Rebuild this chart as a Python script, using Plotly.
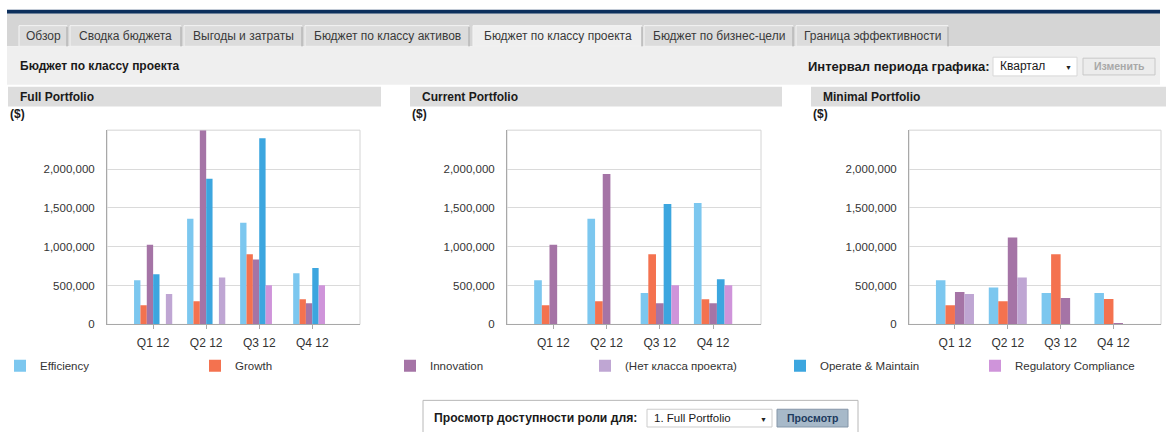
import plotly.graph_objects as go
from plotly.subplots import make_subplots

W, H = 1166, 432
FONT = "Liberation Sans, Arial, sans-serif"

# ---- data ----
quarters = ["Q1 12", "Q2 12", "Q3 12", "Q4 12"]

names = ["Efficiency", "Growth", "Innovation", "(Нет класса проекта)",
         "Operate & Maintain", "Regulatory Compliance"]
colors = ["#7cc7ef", "#f4724f", "#a574a6", "#bfa6d3", "#3ca6df", "#cf94da"]

# Full Portfolio
full_efficiency = [567000, 1361000, 1307000, 660000]
full_growth = [248000, 298000, 903000, 324000]
full_innovation = [1025000, 2500000, 836000, 273000]
full_operate = [647000, 1874000, 2395000, 727000]
full_regulatory = [0, 0, 504000, 504000]
full_no_class = [391000, 605000, 0, 0]

# Current Portfolio
cur_efficiency = [567000, 1361000, 403000, 1563000]
cur_growth = [248000, 298000, 903000, 324000]
cur_innovation = [1025000, 1937000, 273000, 273000]
cur_operate = [0, 0, 1550000, 580000]
cur_regulatory = [0, 0, 504000, 504000]

# Minimal Portfolio
min_efficiency = [567000, 475000, 403000, 403000]
min_growth = [248000, 298000, 903000, 328000]
min_innovation = [416000, 1118000, 340000, 17000]
min_no_class = [391000, 605000, 0, 0]

y_ticks = [0, 500000, 1000000, 1500000, 2000000]

panels = [
    ("Full Portfolio", [("Efficiency", full_efficiency), ("Growth", full_growth),
                        ("Innovation", full_innovation), ("Operate & Maintain", full_operate),
                        ("Regulatory Compliance", full_regulatory),
                        ("(Нет класса проекта)", full_no_class)]),
    ("Current Portfolio", [("Efficiency", cur_efficiency), ("Growth", cur_growth),
                           ("Innovation", cur_innovation), ("Operate & Maintain", cur_operate),
                           ("Regulatory Compliance", cur_regulatory)]),
    ("Minimal Portfolio", [("Efficiency", min_efficiency), ("Growth", min_growth),
                           ("Innovation", min_innovation),
                           ("(Нет класса проекта)", min_no_class)]),
]


def px(x):
    return x / W


def py(y):
    return 1 - y / H


fig = make_subplots(rows=1, cols=3)

shown = set()
for col, (title, series) in enumerate(panels, start=1):
    for name, vals in series:
        k = names.index(name)
        fig.add_trace(go.Bar(
            x=quarters, y=vals, name=name,
            marker=dict(color=colors[k], line=dict(width=0)),
            legendgroup=name, legendrank=k + 1,
            showlegend=name not in shown,
        ), row=1, col=col)
        shown.add(name)

# plot boxes in pixels
boxes = [(107, 360), (507, 761), (909, 1161)]
for col, (x0, x1) in enumerate(boxes, start=1):
    fig.update_xaxes(domain=[px(x0), px(x1)], type="category", range=[-0.87, 3.9],
                     showline=True, linecolor="#a8a8a8", ticks="outside", ticklen=4,
                     tickcolor="#a8a8a8", showgrid=False, ticklabelstandoff=3,
                     tickfont=dict(size=12, color="#333333"), row=1, col=col)
    fig.update_yaxes(domain=[py(329), py(132)], range=[0, 2500000],
                     tickvals=y_ticks, ticktext=[f"{v:,}" for v in y_ticks],
                     showgrid=True, gridcolor="#dadada", showline=True,
                     linecolor="#a8a8a8", zeroline=False, ticklabelstandoff=9,
                     tickfont=dict(size=11.5, color="#333333"), row=1, col=col)

shapes = []
annotations = []


def rect(x0, y0, x1, y1, fill, line=None, lw=0):
    shapes.append(dict(type="rect", xref="paper", yref="paper",
                       x0=px(x0), x1=px(x1), y0=py(y1), y1=py(y0),
                       fillcolor=fill, line=dict(color=line or fill, width=lw),
                       layer="below"))


def label(x, y, s, size=11, color="#333333", bold=False, anchor="left"):
    annotations.append(dict(xref="paper", yref="paper", x=px(x), y=py(y),
                            text=f"<b>{s}</b>" if bold else s, showarrow=False,
                            xanchor=anchor, yanchor="middle",
                            font=dict(size=size, color=color, family=FONT)))


# top navy line and tab band
rect(7, 10, 1160, 14, "#0c2f5c")
rect(7, 14, 1160, 47, "#d5d5d5")
tabs = [("Обзор", 19, 67), ("Сводка бюджета", 70, 181), ("Выгоды и затраты", 184, 302),
        ("Бюджет по классу активов", 305, 469), ("Бюджет по классу проекта", 473, 642),
        ("Бюджет по бизнес-цели", 644, 793), ("Граница эффективности", 796, 948)]
for i, (t, x0, x1) in enumerate(tabs):
    active = i == 4
    rect(x0, 26, x1, 47, "#efefef" if active else "#dcdcdc", "#f4f4f4", 1)
    shapes.append(dict(type="line", xref="paper", yref="paper", x0=px(x1), x1=px(x1),
                       y0=py(47), y1=py(27), line=dict(color="#9a9a9a", width=1)))
    label((x0 + x1) / 2, 37, t, size=12, color="#3a3a3a", anchor="center")

# light panel with page title and interval control
rect(7, 47, 1160, 86, "#efefef")
label(18, 67, "Бюджет по классу проекта", size=12, color="#1a1a1a", bold=True)
label(806, 67, "Интервал периода графика:", size=13, color="#1a1a1a", bold=True)
rect(993, 58, 1077, 77, "#ffffff", "#d8d8d8", 1)
label(998, 67, "Квартал", size=12, color="#1a1a1a")
label(1068, 68, "▼", size=7, color="#222222", anchor="center")
rect(1083, 59, 1155, 76, "#ececec", "#c8c8c8", 1)
label(1119, 67, "Изменить", size=10.5, color="#a8a8a8", bold=True, anchor="center")

# section header bars
heads = [(8, 381), (410, 782), (811, 1166)]
for (title, _), (x0, x1) in zip(panels, heads):
    rect(x0, 88, x1, 108, "#dddddd")
    label(x0 + 10, 98, title, size=12, color="#1a1a1a", bold=True)
    label(x0, 116, "($)", size=12, color="#1a1a1a", bold=True)

# plot frames (top/right light border)
for col in (1, 2, 3):
    sfx = "" if col == 1 else str(col)
    shapes.append(dict(type="rect", xref=f"x{sfx} domain", yref=f"y{sfx} domain",
                       x0=0, x1=1, y0=0, y1=1, line=dict(color="#d4d4d4", width=1),
                       layer="below"))

# bottom role box
rect(423, 406, 858, 445, "#ffffff", "#b8b8b8", 1)
label(432, 424, "Просмотр доступности роли для:", size=12.2, color="#1a1a1a", bold=True)
rect(647, 415, 772, 433, "#ffffff", "#cccccc", 1)
label(652, 424, "1. Full Portfolio", size=11.5, color="#1a1a1a")
label(763, 425, "▼", size=7, color="#222222", anchor="center")
rect(777, 415, 848, 433, "#a7b9c9", "#8596a8", 1)
label(812, 424, "Просмотр", size=10.5, color="#1c3a5e", bold=True, anchor="center")

fig.update_layout(
    width=W, height=H, autosize=False,
    margin=dict(l=0, r=0, t=0, b=0),
    paper_bgcolor="#ffffff", plot_bgcolor="#ffffff",
    font=dict(family=FONT, size=11, color="#333333"),
    barmode="group", bargap=0.28, bargroupgap=0,
    showlegend=True,
    legend=dict(orientation="h", x=0, xanchor="left", y=py(371), yanchor="middle",
                entrywidth=150, entrywidthmode="pixels", bgcolor="rgba(0,0,0,0)",
                borderwidth=0,
                font=dict(size=11.5, color="#333333", family=FONT), traceorder="normal"),
    shapes=shapes, annotations=annotations,
)

fig.write_html("out.html", config={"displayModeBar": False},
               post_script="document.body.style.margin='0';")
